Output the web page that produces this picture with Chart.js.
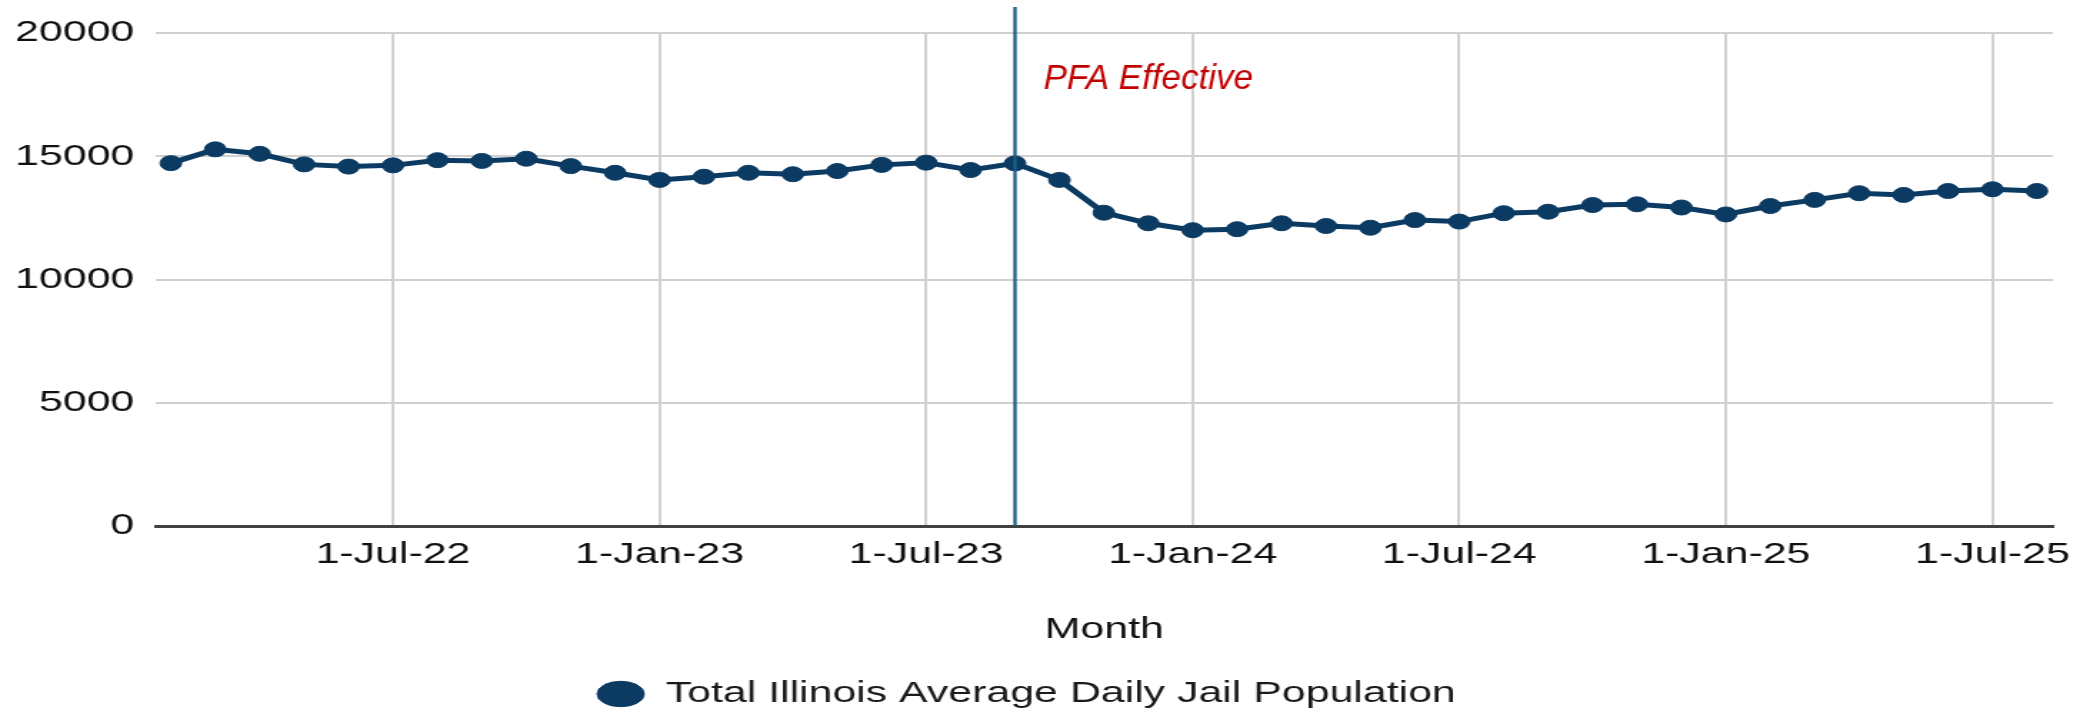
<!DOCTYPE html>
<html>
<head>
<meta charset="utf-8">
<title>Total Illinois Average Daily Jail Population</title>
<script src="https://cdn.jsdelivr.net/npm/chart.js@4.4.1/dist/chart.umd.min.js"></script>
<style>
  html, body { margin: 0; padding: 0; background: #ffffff; }
</style>
</head>
<body>
<!-- the source image is stretched sideways, so the canvas is drawn narrow and shown wide -->
<canvas id="jailChart" width="1470" height="710" style="display:block;width:2100px;height:710px;"></canvas>
<script>
const months = [
    '2022-02', '2022-03', '2022-04', '2022-05', '2022-06', '2022-07', '2022-08', '2022-09',
    '2022-10', '2022-11', '2022-12', '2023-01', '2023-02', '2023-03', '2023-04', '2023-05',
    '2023-06', '2023-07', '2023-08', '2023-09', '2023-10', '2023-11', '2023-12', '2024-01',
    '2024-02', '2024-03', '2024-04', '2024-05', '2024-06', '2024-07', '2024-08', '2024-09',
    '2024-10', '2024-11', '2024-12', '2025-01', '2025-02', '2025-03', '2025-04', '2025-05',
    '2025-06', '2025-07', '2025-08'
];
const population = [
    14720, 15280, 15100, 14670, 14580, 14630, 14840, 14810,
    14900, 14600, 14330, 14040, 14170, 14330, 14270, 14400,
    14650, 14740, 14440, 14710, 14040, 12710, 12280, 12000,
    12040, 12280, 12170, 12100, 12410, 12350, 12690, 12750,
    13020, 13050, 12920, 12640, 12980, 13230, 13500, 13430,
    13590, 13660, 13590
];
const tickMonths = ['2022-07', '2023-01', '2023-07', '2024-01', '2024-07', '2025-01', '2025-07'];
const tickLabels = ['1-Jul-22', '1-Jan-23', '1-Jul-23', '1-Jan-24', '1-Jul-24', '1-Jan-25', '1-Jul-25'];
const yTicks = [0, 5000, 10000, 15000, 20000];
const seriesLabel = 'Total Illinois Average Daily Jail Population';
const axisTitle = 'Month';
const pfaMonth = '2023-09';
const pfaLabel = 'PFA Effective';

const navy = '#0b3a63';
const fontFamily = '"Liberation Sans", Arial, Helvetica, sans-serif';

// months -> running month number so the linear axis spaces them evenly
const monthIndex = (m) => {
    const [yr, mo] = m.split('-').map(Number);
    return yr * 12 + mo - 1;
};

const points = months.map((m, i) => ({ x: monthIndex(m), y: population[i] }));

// Vertical marker for the Pretrial Fairness Act, plus its red caption
const pfaMarker = {
    id: 'pfaMarker',
    afterDatasetsDraw(chart) {
        const { ctx, canvas, scales: { x, y } } = chart;
        const px = x.getPixelForValue(monthIndex(pfaMonth));
        const stretch = canvas.clientWidth / canvas.width;
        ctx.save();
        ctx.strokeStyle = '#1b5e87';
        ctx.lineWidth = 2.3;
        ctx.beginPath();
        ctx.moveTo(px, 7);
        ctx.lineTo(px, y.getPixelForValue(0));
        ctx.stroke();
        // caption is not stretched in the source, so undo the sideways scale
        ctx.translate(px + 20, 89);
        ctx.scale(1 / stretch, 1);
        ctx.fillStyle = '#c00000';
        ctx.font = 'italic 35px ' + fontFamily;
        ctx.textBaseline = 'alphabetic';
        ctx.fillText(pfaLabel, 0, 0);
        ctx.restore();
    }
};

const ctx = document.getElementById('jailChart').getContext('2d');

new Chart(ctx, {
    type: 'line',
    data: {
        datasets: [{
            label: seriesLabel,
            data: points,
            borderColor: navy,
            backgroundColor: navy,
            borderWidth: 5,
            pointRadius: 7.5,
            pointBorderWidth: 1,
            pointBackgroundColor: navy,
            pointBorderColor: navy,
            pointStyle: 'circle',
            tension: 0
        }]
    },
    options: {
        responsive: false,
        animation: false,
        devicePixelRatio: 1,
        layout: {
            padding: { left: 0, right: 33, top: 32, bottom: -9 }
        },
        plugins: {
            legend: {
                position: 'bottom',
                labels: {
                    usePointStyle: true,
                    pointStyle: 'circle',
                    pointStyleWidth: 33,
                    boxHeight: 18,
                    color: '#1a1a1a',
                    padding: 0,
                    font: { family: fontFamily, size: 30 }
                }
            },
            tooltip: { enabled: false }
        },
        scales: {
            x: {
                type: 'linear',
                min: monthIndex(months[0]) - 0.34,
                max: monthIndex(months[months.length - 1]) + 0.36,
                afterBuildTicks: (scale) => {
                    scale.ticks = tickMonths.map(m => ({ value: monthIndex(m) }));
                },
                grid: {
                    color: '#d0d0d0',
                    lineWidth: 2,
                    drawTicks: false
                },
                border: {
                    display: true,
                    color: '#404040',
                    width: 3
                },
                ticks: {
                    autoSkip: false,
                    maxRotation: 0,
                    padding: 11,
                    color: '#111111',
                    font: { family: fontFamily, size: 30 },
                    callback: (value, index) => tickLabels[index]
                },
                title: {
                    display: true,
                    text: axisTitle,
                    color: '#111111',
                    font: { family: fontFamily, size: 30 },
                    padding: { top: 28, bottom: 31 }
                }
            },
            y: {
                min: yTicks[0],
                max: yTicks[yTicks.length - 1],
                afterBuildTicks: (scale) => {
                    scale.ticks = yTicks.map(v => ({ value: v }));
                },
                afterFit: (scale) => {
                    scale.width = 109;
                },
                grid: {
                    color: '#d0d0d0',
                    lineWidth: 2,
                    drawTicks: false
                },
                border: { display: false },
                ticks: {
                    padding: 15,
                    color: '#111111',
                    font: { family: fontFamily, size: 30 },
                    callback: (value) => String(value)
                }
            }
        }
    },
    plugins: [pfaMarker]
});
</script>
</body>
</html>
